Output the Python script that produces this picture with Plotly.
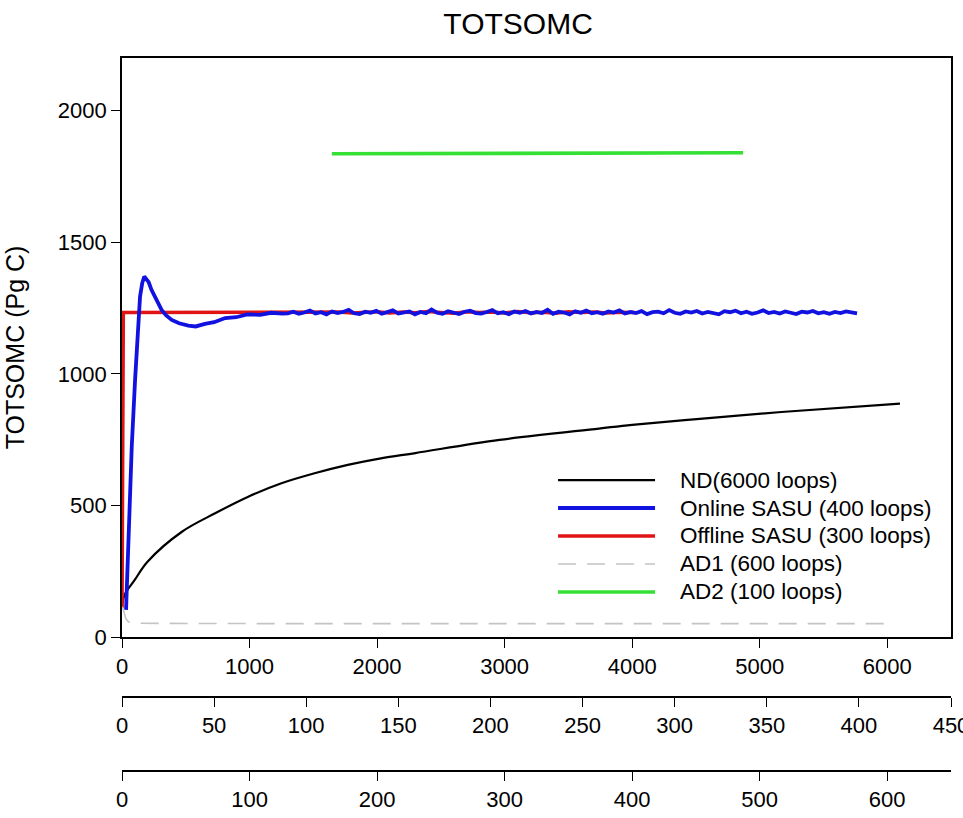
import plotly.graph_objects as go

# ---------------- data ----------------
title_text = "TOTSOMC"
y_title = "TOTSOMC (Pg C)"
legend_labels = ["ND(6000 loops)", "Online SASU (400 loops)", "Offline SASU (300 loops)",
                 "AD1 (600 loops)", "AD2 (100 loops)"]

y_ticks = [0, 500, 1000, 1500, 2000]
x1_ticks = [0, 1000, 2000, 3000, 4000, 5000, 6000]
x2_ticks = [0, 50, 100, 150, 200, 250, 300, 350, 400, 450]
x3_ticks = [0, 100, 200, 300, 400, 500, 600]

# ND (primary axis)
nd_x = [0, 20, 100, 200, 470, 730, 990, 1250, 1510, 1770, 2030, 2300, 2960, 3740, 4000, 4530, 5170, 6100]
nd_y = [112, 160, 217, 286, 400, 470, 533, 584, 622, 654, 679, 699, 749, 792, 806, 829, 855, 887]

# Online SASU (loops, second axis)
on_x = [2.2, 3.7, 5.3, 7.1, 8, 9.8, 11, 12.1, 13, 14.5, 16, 18, 21.5, 24, 27, 31, 36, 40, 45, 50,
        56, 62, 68, 75, 81, 87] + list(range(90, 400, 3))
on_y = [103, 410, 724, 977, 1104, 1294, 1345, 1370, 1362, 1348, 1319, 1290, 1243, 1222, 1205, 1192,
        1183, 1180, 1190, 1196, 1212, 1215, 1226, 1224, 1232, 1229,
        1230, 1236, 1228, 1233, 1240, 1229, 1234, 1226, 1237, 1231,
        1235, 1243, 1230, 1227, 1236, 1232, 1239, 1228, 1234, 1241,
        1229, 1233, 1237, 1226, 1235, 1230, 1244, 1232, 1228, 1238,
        1233, 1227, 1236, 1240, 1231, 1229, 1235, 1242, 1230, 1234,
        1227, 1237, 1232, 1239, 1229, 1235, 1231, 1243, 1228, 1236,
        1233, 1226, 1238, 1232, 1240, 1230, 1234, 1228, 1237, 1233,
        1241, 1229, 1235, 1231, 1238, 1227, 1234, 1236, 1230, 1242,
        1232, 1228, 1237, 1233, 1239, 1229, 1235, 1231, 1226, 1238,
        1234, 1240, 1230, 1236, 1228, 1233, 1241, 1231, 1235, 1229,
        1237, 1232, 1227, 1236, 1233, 1239, 1230, 1234, 1228, 1235,
        1231, 1237, 1233, 1230]

# Offline SASU (primary axis)
off_x = [0, 10, 30, 500, 1000, 1500, 1600, 1700, 1800, 1900, 2000, 2100, 2200, 2300, 2400, 2500,
         2600, 2700, 2800, 2900, 3000, 3100, 3200, 3300, 3400, 3500, 3600, 3700, 3800, 3900, 4017]
off_y = [110, 1233, 1233, 1233, 1233, 1234, 1232, 1235, 1231, 1234, 1236, 1231, 1235, 1232, 1237,
         1233, 1230, 1236, 1233, 1235, 1231, 1237, 1232, 1234, 1230, 1236, 1233, 1235, 1231, 1234, 1233]

# AD1 (loops, third axis)
ad1_x = [0, 1, 1.8, 3, 5, 8, 15, 50, 100, 200, 300, 400, 500, 600]
ad1_y = [115, 105, 90, 70, 58, 54, 52, 51, 51, 51, 51, 51, 51, 51]

# AD2 (primary axis)
ad2_x = [1645, 3480, 3500, 4870]
ad2_y = [1836, 1837, 1839, 1840]

# ---------------- styles ----------------
colors = ["#000000", "#1212e0", "#e01414", "#c4c4c4", "#33e033"]
widths = [2.2, 3.8, 3.6, 1.6, 3.6]
dashes = ["solid", "solid", "solid", "18px,11px", "solid"]
shapes_ = ["spline", "linear", "linear", "linear", "linear"]
FONT = "Liberation Sans, Arial, sans-serif"

fig = go.Figure()
series = [
    (nd_x, nd_y, "x"),
    (on_x, on_y, "x2"),
    (off_x, off_y, "x"),
    (ad1_x, ad1_y, "x3"),
    (ad2_x, ad2_y, "x"),
]
for i, (xs, ys, xa) in enumerate(series):
    fig.add_trace(go.Scatter(x=xs, y=ys, xaxis=xa, yaxis="y", mode="lines",
                             name=legend_labels[i], showlegend=False,
                             line=dict(color=colors[i], width=widths[i], dash=dashes[i],
                                       shape=shapes_[i])))

# manual legend (paper coords)
leg_x0, leg_x1, leg_tx = 0.526, 0.643, 0.6707
leg_y0, leg_dy = 0.4373, 0.0373
for i, lab in enumerate(legend_labels):
    yy = leg_y0 - i * leg_dy
    fig.add_shape(type="line", xref="paper", yref="paper", x0=leg_x0, x1=leg_x1, y0=yy, y1=yy,
                  line=dict(color=colors[i], width=widths[i], dash=dashes[i]))
    fig.add_annotation(xref="paper", yref="paper", x=leg_tx, y=yy, text=lab, showarrow=False,
                       xanchor="left", yanchor="middle", font=dict(size=22.5, color="black", family=FONT))

axis_common = dict(showgrid=False, zeroline=False, showline=True, linecolor="black", linewidth=1.8,
                   ticks="outside", ticklen=9, tickwidth=1.4, tickcolor="black",
                   tickfont=dict(size=22, color="black", family=FONT), automargin=False,
                   ticklabeloverflow="allow")

fig.update_layout(
    width=963, height=818,
    margin=dict(l=122, r=12, t=58, b=10),
    paper_bgcolor="white", plot_bgcolor="white",
    title=dict(text=title_text, x=0.538, xref="container", y=0.9707, yanchor="middle", xanchor="center",
               font=dict(size=30, color="black", family=FONT)),
    xaxis=dict(range=[0, 6500], tickvals=x1_ticks, mirror=True, anchor="y", **axis_common),
    xaxis2=dict(range=[0, 450], tickvals=x2_ticks, overlaying="x", anchor="free", position=0.148,
                side="bottom", **axis_common),
    xaxis3=dict(range=[0, 650], tickvals=x3_ticks, overlaying="x", anchor="free", position=0.0493,
                side="bottom", **axis_common),
    yaxis=dict(range=[0, 2200], tickvals=y_ticks, domain=[0.228, 1], mirror=True,
               title=dict(text=y_title, font=dict(size=25, color="black", family=FONT), standoff=26),
               **axis_common),
)

fig.write_html("out.html", config={"displayModeBar": False},
               post_script="document.body.style.margin='0';")
